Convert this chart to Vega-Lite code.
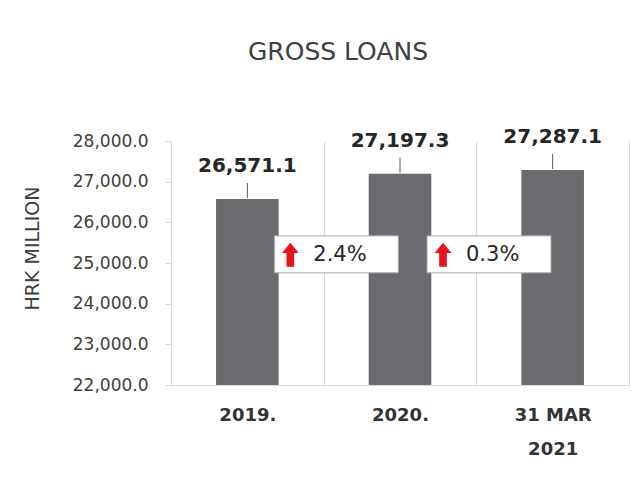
{
  "$schema": "https://vega.github.io/schema/vega-lite/v6.json",
  "width": 458,
  "height": 244,
  "autosize": {"type": "none"},
  "padding": {"left": 171, "top": 141, "right": 7, "bottom": 106},
  "background": "white",
  "config": {"view": {"stroke": null}, "font": "DejaVu Sans"},
  "title": {"text": "GROSS LOANS", "font": "DejaVu Sans", "fontSize": 25, "fontWeight": "normal", "color": "#404040", "anchor": "middle", "dx": -62, "offset": 62},
  "datasets": {
    "bars": [
      {"period": "2019.", "value": 26571.1},
      {"period": "2020.", "value": 27197.3},
      {"period": "31 MAR 2021", "value": 27287.1}
    ],
    "changes": [
      {"period": "2019.", "change": "2.4%"},
      {"period": "2020.", "change": "0.3%"}
    ]
  },
  "layer": [
    {
      "data": {"name": "bars"},
      "mark": {"type": "bar", "width": {"band": 0.41}, "color": "#6b6a6f"},
      "encoding": {
        "x": {
          "field": "period", "type": "nominal", "sort": null,
          "scale": {"paddingInner": 0, "paddingOuter": 0},
          "axis": {
            "title": null, "labelAngle": 0, "grid": true, "tickBand": "extent",
            "gridColor": "#d9d9d9", "ticks": false, "domainColor": "#d9d9d9",
            "labelFont": "DejaVu Sans", "labelFontSize": 18, "labelFontWeight": "bold", "labelColor": "#333333",
            "labelPadding": 21, "labelLineHeight": 34, "labelBaseline": "top",
            "labelExpr": "datum.label == '31 MAR 2021' ? ['31 MAR', '2021'] : datum.label"
          }
        },
        "y": {
          "field": "value", "type": "quantitative",
          "scale": {"domain": [22000, 28000], "zero": false, "nice": false},
          "axis": {
            "values": [22000, 23000, 24000, 25000, 26000, 27000, 28000],
            "format": ",.1f", "grid": false,
            "domainColor": "#d9d9d9", "tickColor": "#d9d9d9", "tickSize": 6,
            "labelFont": "DejaVu Sans", "labelFontSize": 17, "labelColor": "#404040", "labelPadding": 17,
            "title": "HRK MILLION", "titleFont": "DejaVu Sans", "titleFontSize": 19, "titleFontWeight": "normal", "titleColor": "#404040",
            "titleX": -139, "titleY": 107, "titleAngle": -90, "titleAlign": "center", "titleBaseline": "middle"
          }
        },
        "y2": {"datum": 22000}
      }
    },
    {
      "data": {"name": "bars"},
      "mark": {"type": "rule", "color": "#595959", "strokeWidth": 1, "yOffset": -1, "y2Offset": -16},
      "encoding": {
        "x": {"field": "period", "type": "nominal", "sort": null},
        "y": {"field": "value", "type": "quantitative"},
        "y2": {"field": "value"}
      }
    },
    {
      "data": {"name": "bars"},
      "mark": {"type": "text", "dy": -33, "font": "DejaVu Sans", "fontSize": 20, "fontWeight": "bold", "color": "#262626"},
      "encoding": {
        "x": {"field": "period", "type": "nominal", "sort": null},
        "y": {"field": "value", "type": "quantitative"},
        "text": {"field": "value", "type": "quantitative", "format": ",.1f"}
      }
    },
    {
      "data": {"name": "changes"},
      "mark": {"type": "bar", "width": 124, "xOffset": 89, "yOffset": -19, "y2Offset": 18, "color": "white", "stroke": "#a6a6a6", "strokeWidth": 1},
      "encoding": {
        "x": {"field": "period", "type": "nominal", "sort": null},
        "y": {"datum": 25200, "type": "quantitative"},
        "y2": {"datum": 25200}
      }
    },
    {
      "data": {"name": "changes"},
      "mark": {"type": "point", "shape": "M0,-1L0.7,-0.15L0.32,-0.15L0.32,1L-0.32,1L-0.32,-0.15L-0.7,-0.15Z", "size": 576, "filled": true, "color": "#e8141c", "opacity": 1, "xOffset": 43},
      "encoding": {
        "x": {"field": "period", "type": "nominal", "sort": null},
        "y": {"datum": 25200, "type": "quantitative"}
      }
    },
    {
      "data": {"name": "changes"},
      "mark": {"type": "text", "align": "left", "baseline": "middle", "xOffset": 66, "font": "DejaVu Sans", "fontSize": 21, "color": "#262626"},
      "encoding": {
        "x": {"field": "period", "type": "nominal", "sort": null},
        "y": {"datum": 25200, "type": "quantitative"},
        "text": {"field": "change", "type": "nominal"}
      }
    }
  ]
}
